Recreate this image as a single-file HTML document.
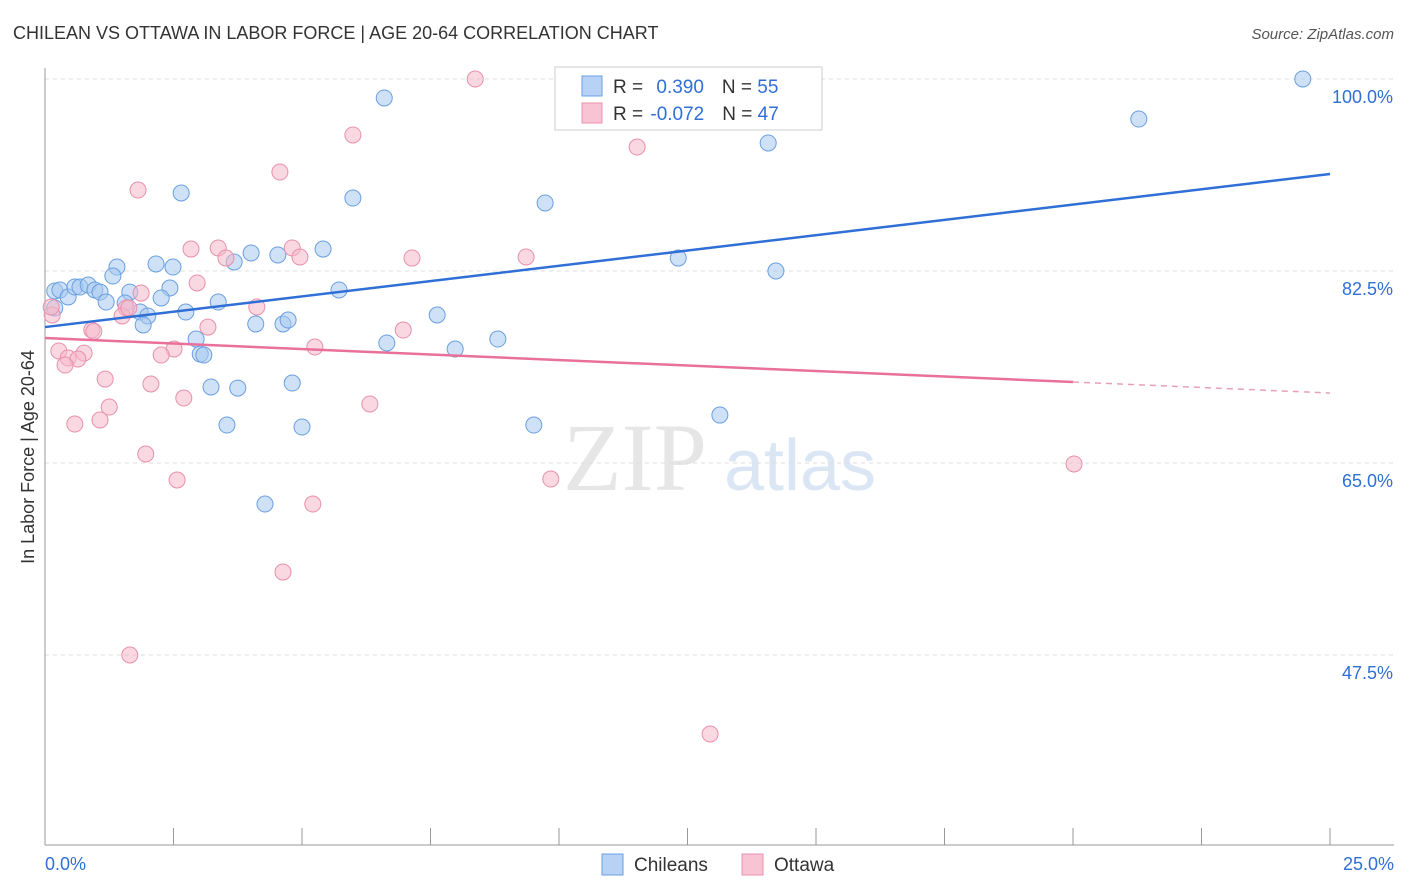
<!DOCTYPE html>
<html><head><meta charset="utf-8">
<style>
body{margin:0;background:#fff;font-family:"Liberation Sans",sans-serif;}
svg{display:block}
</style></head>
<body>
<svg id="chart" width="1406" height="892" xmlns="http://www.w3.org/2000/svg">
<text x="13" y="39" font-size="18" fill="#333">CHILEAN VS OTTAWA IN LABOR FORCE | AGE 20-64 CORRELATION CHART</text>
<text x="1394" y="39" font-size="15" fill="#555" font-style="italic" text-anchor="end">Source: ZipAtlas.com</text>
<text x="635" y="490" font-size="96" fill="#e6e6e6" font-family="Liberation Serif,serif" text-anchor="middle">ZIP</text>
<text x="800" y="490" font-size="72" fill="#dbe6f5" text-anchor="middle">atlas</text>
<text transform="translate(34,457) rotate(-90)" font-size="18" fill="#333" text-anchor="middle">In Labor Force | Age 20-64</text>
<g id="grid"></g>
<g id="axes"></g>
<g id="points"></g>
<g id="trends"></g>
<g>
<rect x="555" y="67" width="267" height="63" fill="#fff" stroke="#ccc"/>
<rect x="582" y="76" width="20" height="20" fill="#b7d2f5" stroke="#6a9fe0"/>
<rect x="582" y="103" width="20" height="20" fill="#f8c3d3" stroke="#e890ab"/>
<text x="613" y="93" font-size="19" fill="#333">R = <tspan fill="#2f6fd6" dx="8">0.390</tspan><tspan dx="18" fill="#333">N = </tspan><tspan fill="#2f6fd6">55</tspan></text>
<text x="613" y="120" font-size="19" fill="#333">R = <tspan fill="#2f6fd6" dx="2">-0.072</tspan><tspan dx="18" fill="#333">N = </tspan><tspan fill="#2f6fd6">47</tspan></text>
</g>
<g>
<rect x="602" y="854" width="21" height="21" fill="#b7d2f5" stroke="#6a9fe0"/>
<text x="634" y="871" font-size="19" fill="#333">Chileans</text>
<rect x="742" y="854" width="21" height="21" fill="#f8c3d3" stroke="#e890ab"/>
<text x="774" y="871" font-size="19" fill="#333">Ottawa</text>
</g>
</svg>
<script>
const blueX=[24.47,6.60,21.28,14.07,2.65,5.99,9.73,4.01,4.53,5.41,12.32,3.68,2.16,2.49,1.40,14.22,1.32,0.19,0.29,0.45,0.58,0.68,0.84,0.97,1.07,1.65,2.43,5.72,1.19,1.56,2.26,3.37,0.19,1.85,2.00,2.74,1.91,4.10,4.63,4.73,7.63,2.94,6.65,8.81,7.98,3.02,3.09,3.23,3.75,4.81,13.13,3.54,5.00,9.51,4.28];
const blueY=[100.0,98.27,96.35,94.17,89.61,89.15,88.70,84.14,83.96,84.50,83.68,83.32,83.14,82.86,82.86,82.50,82.04,80.68,80.77,80.13,81.04,81.04,81.22,80.77,80.58,80.58,80.95,80.77,79.67,79.58,80.04,79.67,79.13,78.76,78.40,78.76,77.58,77.67,77.67,78.03,78.49,76.30,75.94,76.30,75.39,74.93,74.84,71.93,71.83,72.29,69.37,68.46,68.28,68.46,61.26];
const pinkX=[8.37,5.99,11.52,4.57,1.81,2.84,3.37,4.81,3.52,4.96,7.14,9.36,2.96,1.87,4.12,1.58,0.14,1.50,0.91,3.17,6.97,5.25,0.27,2.51,0.76,0.45,0.64,2.26,0.39,1.17,2.06,2.70,1.25,6.32,1.07,0.58,1.96,9.84,20.02,2.57,5.21,4.63,1.65,12.94,0.12,0.95,1.63];
const pinkY=[100.0,94.90,93.80,91.52,89.88,84.50,84.60,84.60,83.68,83.78,83.68,83.78,81.41,80.49,79.22,79.13,78.49,78.40,77.12,77.39,77.12,75.57,75.21,75.39,75.02,74.57,74.48,74.84,73.93,72.65,72.20,70.92,70.10,70.38,68.92,68.55,65.82,63.54,64.91,63.45,61.26,55.06,47.50,40.30,79.22,77.0,79.13];
const yTicks=[100,82.5,65,47.5];
const yTickLabels=["100.0%","82.5%","65.0%","47.5%"];
const xTickLabels=["0.0%","25.0%"];
const blueTrend=[77.39,91.34];
const pinkTrend=[76.39,71.38];
const pinkSolidEnd=20;

const NS="http://www.w3.org/2000/svg";
const sx=v=>45+v/25*1285;
const sy=v=>79+(100-v)*192/17.5;
function mk(tag,attrs,parent){const e=document.createElementNS(NS,tag);for(const k in attrs)e.setAttribute(k,attrs[k]);parent.appendChild(e);return e;}
const grid=document.getElementById('grid'),axes=document.getElementById('axes'),pts=document.getElementById('points'),tr=document.getElementById('trends');
yTicks.forEach((t,i)=>{
 const l=mk('line',{x1:45,x2:1394,y1:sy(t),y2:sy(t),stroke:'#ddd','stroke-dasharray':'4,4'},grid);
 
 
 const tx=mk('text',{x:1393,y:sy(t)+24,'font-size':18,fill:'#2f6fd6','text-anchor':'end'},axes);
 tx.textContent=yTickLabels[i];
 
 
});
const ya=mk('line',{x1:45,x2:45,y1:68,y2:845,stroke:'#999'},axes);


const xa=mk('line',{x1:45,x2:1394,y1:845,y2:845,stroke:'#999'},axes);


for(let i=0;i<=10;i++){
 const t=mk('line',{x1:sx(i*2.5),x2:sx(i*2.5),y1:828,y2:845,stroke:'#999'},axes);
 
 
}
[[45,'start',0],[1394,'end',1]].forEach(([x,a,i])=>{
 const tx=mk('text',{x:x,y:870,'font-size':18,fill:'#2f6fd6','text-anchor':a},axes);
 tx.textContent=xTickLabels[i];
 
 
});
blueX.forEach((x,i)=>{
 const c=mk('circle',{cx:sx(x),cy:sy(blueY[i]),r:8,fill:'rgba(168,200,240,0.55)',stroke:'#6a9fe0','stroke-width':1},pts);
 
 
});
pinkX.forEach((x,i)=>{
 const c=mk('circle',{cx:sx(x),cy:sy(pinkY[i]),r:8,fill:'rgba(245,184,203,0.55)',stroke:'#e890ab','stroke-width':1},pts);
 
 
});
const bl=mk('line',{x1:sx(0),y1:sy(blueTrend[0]),x2:sx(25),y2:sy(blueTrend[1]),stroke:'#2f6fd6','stroke-width':2.5},tr);


const pAt=x=>pinkTrend[0]+(pinkTrend[1]-pinkTrend[0])*x/25;
const pl=mk('line',{x1:sx(0),y1:sy(pAt(0)),x2:sx(pinkSolidEnd),y2:sy(pAt(pinkSolidEnd)),stroke:'#e8709a','stroke-width':2.5},tr);


const pd=mk('line',{x1:sx(pinkSolidEnd),y1:sy(pAt(pinkSolidEnd)),x2:sx(25),y2:sy(pAt(25)),stroke:'#e8a0b8','stroke-width':1.5,'stroke-dasharray':'6,5'},tr);


</script>
</body></html>
